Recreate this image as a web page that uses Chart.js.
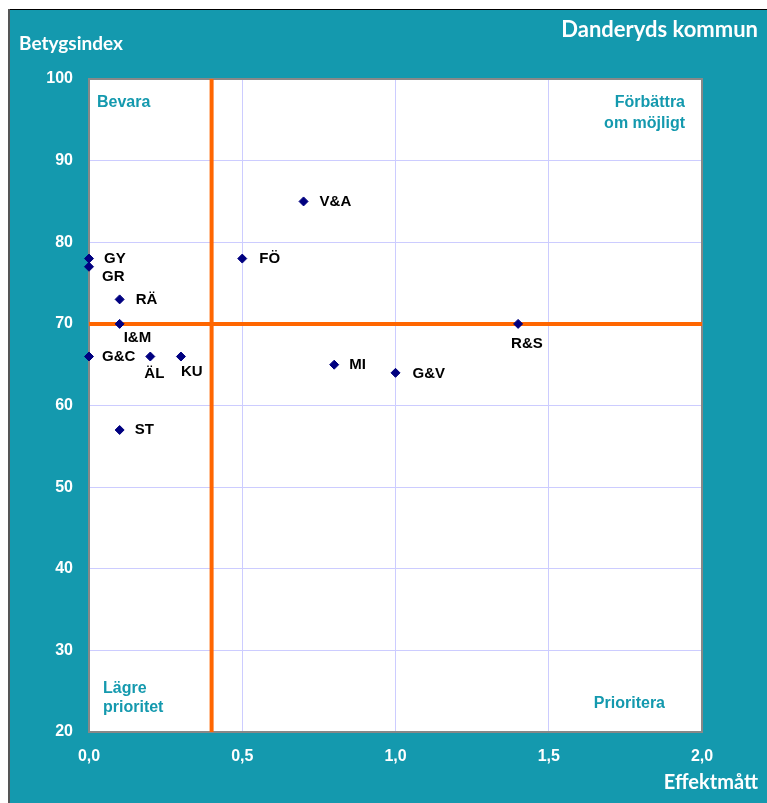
<!DOCTYPE html>
<html>
<head>
<meta charset="utf-8">
<script src="https://cdn.jsdelivr.net/npm/chart.js@4.4.1/dist/chart.umd.min.js"></script>
<style>
  html, body { margin: 0; padding: 0; background: #fff; overflow: hidden; }
  #wrap { width: 767px; height: 803px; }
</style>
</head>
<body>
<div id="wrap"><canvas id="chart" width="767" height="803"></canvas></div>
<script>
// data
const areaLabels = ['GY', 'GR', 'RÄ', 'I&M', 'G&C', 'ÄL', 'KU', 'ST', 'FÖ', 'V&A', 'MI', 'G&V', 'R&S'];
const effektValues = [0.0, 0.0, 0.1, 0.1, 0.0, 0.2, 0.3, 0.1, 0.5, 0.7, 0.8, 1.0, 1.4];
const betygValues = [78, 77, 73, 70, 66, 66, 66, 57, 78, 85, 65, 64, 70];
const xTicks = [0, 0.5, 1.0, 1.5, 2.0];
const yTicks = [20, 30, 40, 50, 60, 70, 80, 90, 100];
const effektLimit = 0.4;
const betygLimit = 70;

const TEAL = '#1499AE';
const ORANGE = '#FF6600';
const NAVY = '#000080';

// where each label sits relative to its point (px)
const labelOffset = {
    'GY': [15, 0], 'GR': [13, 10], 'RÄ': [16, 0], 'I&M': [4, 14], 'G&C': [13, 0],
    'ÄL': [-6, 17], 'KU': [0, 15], 'ST': [15, 0], 'FÖ': [17, 0], 'V&A': [16, 0],
    'MI': [15, 0], 'G&V': [17, 1], 'R&S': [-7, 20]
};

let points = [];
for (let i = 0; i < areaLabels.length; i++)
    points.push({x: effektValues[i], y: betygValues[i], label: areaLabels[i]});

const frame = {
    id: 'frame',
    beforeDraw(chart) {
        const c = chart.ctx, a = chart.chartArea;
        c.save();
        c.fillStyle = '#fff';
        c.fillRect(0, 0, chart.width, chart.height);
        c.fillStyle = TEAL;
        c.fillRect(9, 10, chart.width, chart.height);
        c.strokeStyle = '#000';
        c.lineWidth = 1;
        c.beginPath();
        c.moveTo(9, 9.5);
        c.lineTo(chart.width, 9.5);
        c.stroke();
        c.strokeStyle = '#555';
        c.lineWidth = 2;
        c.beginPath();
        c.moveTo(9, 9);
        c.lineTo(9, chart.height);
        c.stroke();
        c.fillStyle = '#fff';
        c.fillRect(a.left, a.top, a.right - a.left, a.bottom - a.top);
        c.restore();
    },
    beforeDatasetsDraw(chart) {
        const c = chart.ctx, a = chart.chartArea;
        c.save();
        c.strokeStyle = '#888';
        c.lineWidth = 2;
        c.strokeRect(a.left, a.top, a.right - a.left, a.bottom - a.top);
        c.restore();
    },
    afterDraw(chart) {
        const c = chart.ctx, a = chart.chartArea;
        c.save();

        // titles
        c.fillStyle = '#fff';
        c.textBaseline = 'middle';
        c.font = 'bold 19px Lato, "Open Sans", sans-serif';
        c.textAlign = 'left';
        c.fillText('Betygsindex', 19, 44);
        c.font = 'bold 22px Lato, "Open Sans", sans-serif';
        c.textAlign = 'right';
        c.fillText('Danderyds kommun', 758, 30);
        c.font = 'bold 20px Lato, "Open Sans", sans-serif';
        c.fillText('Effektmått', 758, 783);

        // quadrant labels
        c.fillStyle = TEAL;
        c.font = 'bold 16px "Liberation Sans", Arial, sans-serif';
        c.textAlign = 'left';
        c.fillText('Bevara', a.left + 8, a.top + 24);
        c.fillText('Lägre', a.left + 14, a.bottom - 43);
        c.fillText('prioritet', a.left + 14, a.bottom - 24);
        c.textAlign = 'right';
        c.fillText('Förbättra', a.right - 17, a.top + 24);
        c.fillText('om möjligt', a.right - 17, a.top + 45);
        c.fillText('Prioritera', a.right - 37, a.bottom - 28);

        // point labels
        const meta = chart.getDatasetMeta(0);
        c.fillStyle = '#000';
        c.font = 'bold 15px "Liberation Sans", Arial, sans-serif';
        c.textAlign = 'left';
        meta.data.forEach((el, i) => {
            const off = labelOffset[areaLabels[i]];
            c.fillText(areaLabels[i], el.x + off[0], el.y + off[1]);
        });
        c.restore();
    }
};

const data = {
    datasets: [{
            type: 'scatter',
            data: points,
            backgroundColor: NAVY,
            borderColor: NAVY,
            pointStyle: 'rectRot',
            pointRadius: 4.5,
            clip: false,
            order: 0
        }, {
            type: 'line',
            data: [{x: effektLimit, y: yTicks[0]}, {x: effektLimit, y: yTicks[yTicks.length - 1]}],
            borderColor: ORANGE,
            borderWidth: 4,
            pointRadius: 0,
            order: 1
        }, {
            type: 'line',
            data: [{x: xTicks[0], y: betygLimit}, {x: xTicks[xTicks.length - 1], y: betygLimit}],
            borderColor: ORANGE,
            borderWidth: 4,
            pointRadius: 0,
            order: 1
        }]
};

const tickFont = {family: '"Liberation Sans", Arial, sans-serif', size: 16, weight: 'bold'};

const config = {
    type: 'scatter',
    data: data,
    plugins: [frame],
    options: {
        responsive: false,
        animation: false,
        layout: {padding: {left: 0, top: 79, right: 65, bottom: 0}},
        plugins: {legend: {display: false}, tooltip: {enabled: false}},
        scales: {
            x: {
                type: 'linear',
                min: xTicks[0],
                max: xTicks[xTicks.length - 1],
                afterBuildTicks: s => { s.ticks = xTicks.map(v => ({value: v})); },
                afterFit: s => { s.height = 803 - 732; },
                ticks: {
                    color: '#fff', font: tickFont, padding: 15,
                    callback: v => v.toFixed(1).replace('.', ','),
                    maxRotation: 0
                },
                grid: {color: '#CCCCFF', lineWidth: 1, drawTicks: false},
                border: {display: false}
            },
            y: {
                type: 'linear',
                min: yTicks[0],
                max: yTicks[yTicks.length - 1],
                afterBuildTicks: s => { s.ticks = yTicks.map(v => ({value: v})); },
                afterFit: s => { s.width = 89; },
                ticks: {color: '#fff', font: tickFont, padding: 16},
                grid: {color: '#CCCCFF', lineWidth: 1, drawTicks: false},
                border: {display: false}
            }
        }
    }
};

let ctx = document.getElementById('chart').getContext('2d');
new Chart(ctx, config);
</script>
</body>
</html>
